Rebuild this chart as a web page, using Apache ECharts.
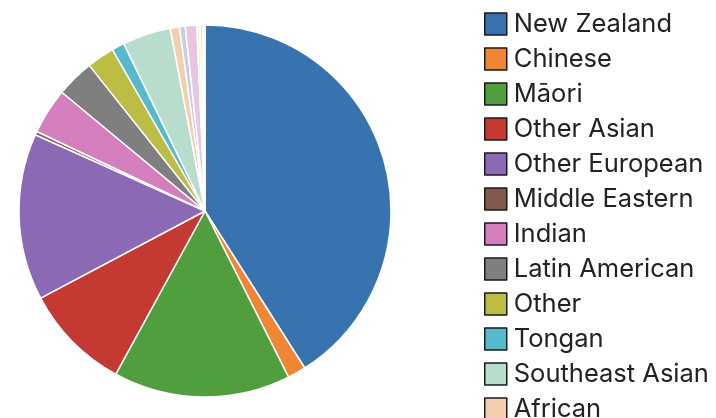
<!DOCTYPE html>
<html><head><meta charset="utf-8">
<script src="https://cdn.jsdelivr.net/npm/echarts@6/dist/echarts.min.js"></script>
<style>html,body{margin:0;padding:0;background:#fff}#c{width:716px;height:418px}</style>
</head><body><div id="c"></div>
<script>
const categories = ["New Zealand","Chinese","Māori","Other Asian","Other European","Middle Eastern","Indian","Latin American","Other","Tongan","Southeast Asian","African","Fijian","Samoan","Niuean","Cook Islands Māori","Other Pacific"];
const values = [41.05,1.6,15.4,9.3,14.5,0.3,4.0,3.3,2.4,1.1,4.2,0.8,0.5,1.0,0.25,0.25,0.2];
const colors = ["#3873b0","#ef8636","#519e3e","#c43a32","#8c69b5","#83584d","#d47ebe","#7f7f7f","#bbbd45","#55bacb","#b9ddcd","#f5ceb0","#c9cce6","#e9c5e0","#f4f2c6","#e3efd3","#f6f6f0"];

const chart = echarts.init(document.getElementById('c'), null, {renderer:'canvas'});
chart.setOption({
  animation:false,
  color: colors,
  legend:{
    orient:'vertical', left:484, top:11, height:800, padding:0,
    itemWidth:22, itemHeight:22, itemGap:9,
    icon:'rect',
    itemStyle:{borderColor:'#1a1a1a', borderWidth:1.5},
    textStyle:{fontFamily:'Inter', fontSize:25.5, color:'#222', padding:[0,0,0,2]},
    selectedMode:false,
    data: categories
  },
  series:[{
    type:'pie', radius:186, center:[205,211], startAngle:90, clockwise:true,
    label:{show:false}, labelLine:{show:false},
    itemStyle:{borderColor:'#fff', borderWidth:1.5},
    emphasis:{disabled:true},
    data: categories.map((n,i)=>({name:n, value:values[i]}))
  }]
});
</script></body></html>
